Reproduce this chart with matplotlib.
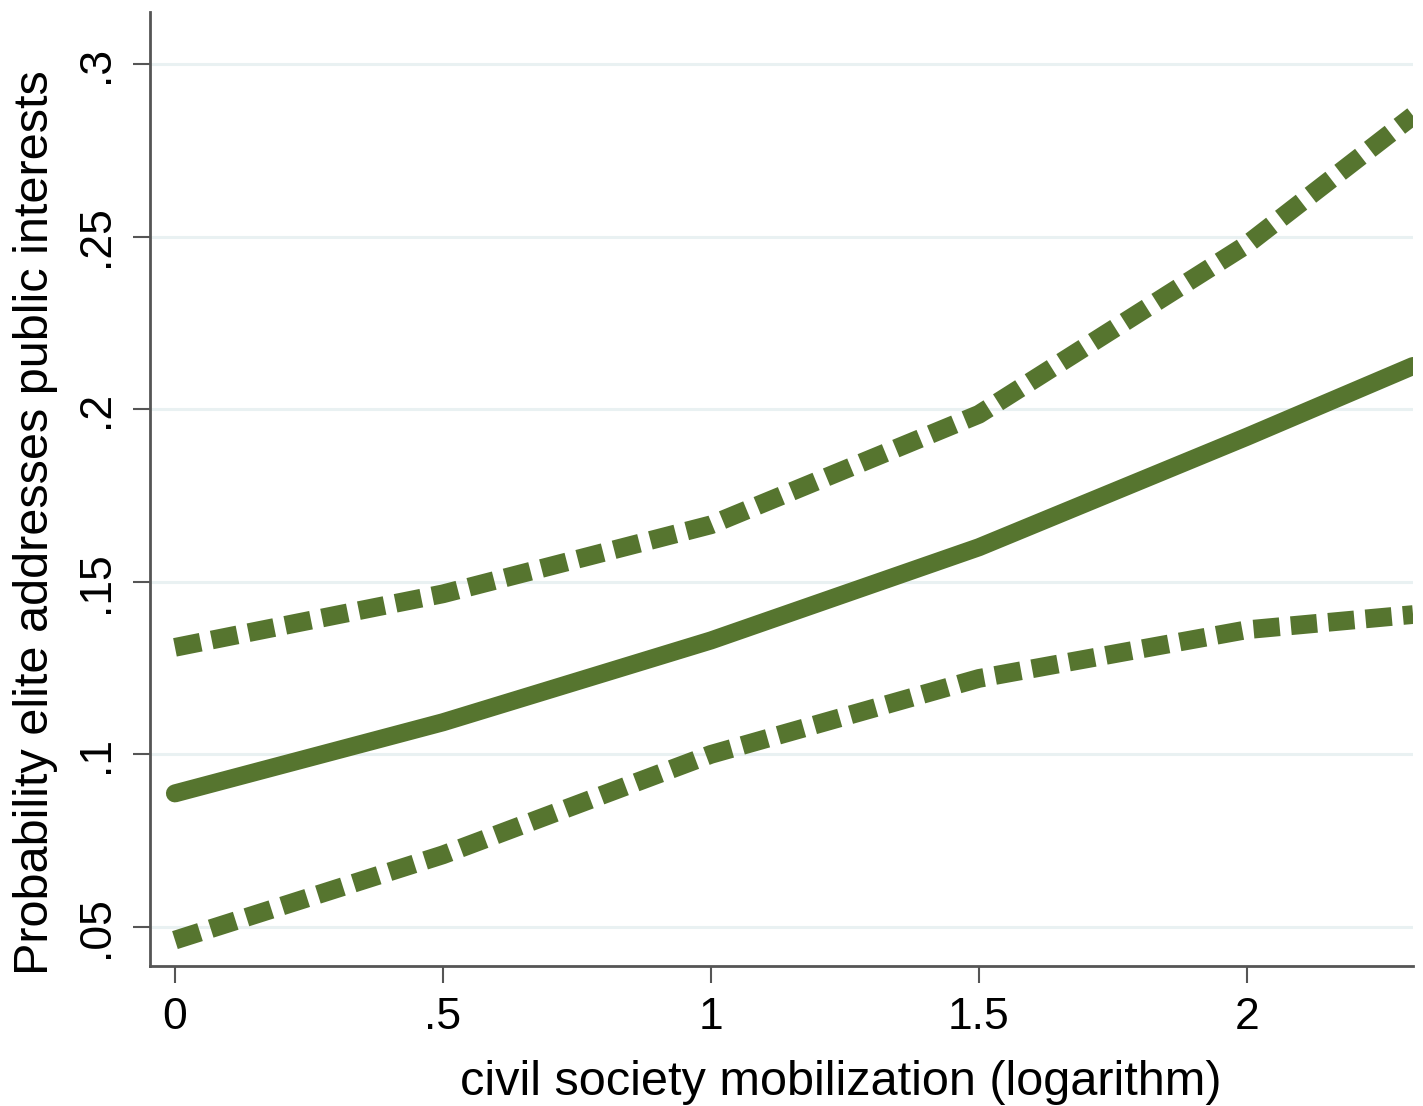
import numpy as np
import matplotlib.pyplot as plt

plt.rcParams['font.family'] = ['Liberation Sans', 'DejaVu Sans']

# predicted probability with confidence bounds
x = [0, 0.5, 1, 1.5, 2, 2.31]
mean = [0.0887, 0.1093, 0.1330, 0.1600, 0.1920, 0.2125]
upper = [0.1310, 0.1465, 0.1665, 0.1985, 0.2477, 0.2850]
lower = [0.0462, 0.0709, 0.1000, 0.1220, 0.1361, 0.1405]

xticks = [0, 0.5, 1, 1.5, 2]
xlabels = ["0", ".5", "1", "1.5", "2"]
yticks = [0.05, 0.1, 0.15, 0.2, 0.25, 0.3]
ylabels = [".05", ".1", ".15", ".2", ".25", ".3"]

green = "#56752f"

fig = plt.figure(figsize=(14.23, 11.06), dpi=100)
ax = fig.add_axes([0.1054, 0.1266, 0.8876, 0.8624])

for yv in yticks:
    ax.axhline(yv, color="#e9f1f2", lw=2.2, zorder=0)

ax.plot(x, upper, color=green, lw=13.5, dashes=(1.4, 0.6), dash_capstyle="butt", solid_capstyle="butt")
ax.plot(x, lower, color=green, lw=13.5, dashes=(1.4, 0.6), dash_capstyle="butt", solid_capstyle="butt")
ax.plot(x, mean, color=green, lw=13, solid_capstyle="round")

ax.set_xlim(-0.0466, 2.31)
ax.set_ylim(0.0387, 0.315)

ax.set_xticks(xticks)
ax.set_xticklabels(xlabels)
ax.set_yticks(yticks)
ax.set_yticklabels(ylabels, rotation=90, va="center")

for s in ["top", "right"]:
    ax.spines[s].set_visible(False)
for s in ["left", "bottom"]:
    ax.spines[s].set_color("#555555")
    ax.spines[s].set_linewidth(2)

ax.tick_params(axis="both", length=12, width=1.5, color="#555555", labelsize=32, pad=10)
ax.tick_params(axis="y", pad=12)
ax.set_xlabel("civil society mobilization (logarithm)", fontsize=35)
ax.set_ylabel("Probability elite addresses public interests", fontsize=35)
# the titles sit off-centre in the original
ax.xaxis.set_label_coords(0.547, -0.099)
ax.yaxis.set_label_coords(-0.073, 0.465)

fig.savefig("out.png", dpi=100)
